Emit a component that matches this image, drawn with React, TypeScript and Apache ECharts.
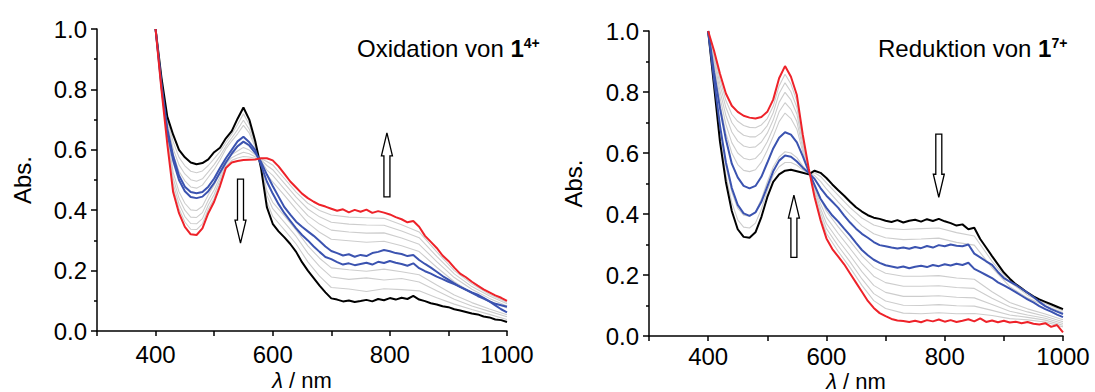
import React, { useEffect, useRef } from "react";
import * as echarts from "echarts";

// wavelength grids (nm)
const WL = [
  400, 410, 420, 430, 440, 450, 460, 470, 480, 490, 500, 510, 520, 530, 540, 550, 560, 570, 580, 590,
  600, 610, 620, 630, 640, 650, 660, 670, 680, 690, 700, 710, 720, 730, 740, 750, 760, 770, 780, 790,
  800, 810, 820, 830, 840, 850, 860, 870, 880, 890, 900, 910, 920, 930, 940, 950, 960, 970, 980, 990, 1000,
];
const WL_GRAY = [
  400, 410, 420, 430, 440, 450, 460, 470, 480, 490, 500, 510, 520, 530, 540, 550, 560, 570, 580, 590,
  600, 620, 640, 660, 680, 700, 730, 760, 790, 820, 850, 880, 910, 940, 970, 1000,
];
const X_TICK_LABELS = [400, 600, 800, 1000];

// ---- Oxidation von 1(4+) ----
const OX_BLACK = [
  1.0, 0.84, 0.71, 0.65, 0.6, 0.575, 0.558, 0.552, 0.556, 0.568, 0.592, 0.607, 0.638, 0.662, 0.703, 0.74, 0.7, 0.63, 0.54, 0.41,
  0.355, 0.33, 0.31, 0.288, 0.262, 0.228, 0.2, 0.175, 0.15, 0.128, 0.108, 0.104, 0.098, 0.101, 0.096, 0.099, 0.103, 0.098, 0.106, 0.102,
  0.109, 0.104, 0.11, 0.106, 0.116, 0.104, 0.099, 0.092, 0.088, 0.082, 0.079, 0.072, 0.068, 0.063, 0.058, 0.055, 0.048, 0.045, 0.038, 0.036, 0.03,
];
const OX_RED = [
  1.0, 0.8, 0.62, 0.46, 0.39, 0.345, 0.32, 0.318, 0.34, 0.39, 0.428, 0.48, 0.54, 0.558, 0.563, 0.566, 0.567, 0.568, 0.572, 0.572,
  0.565, 0.545, 0.52, 0.495, 0.475, 0.455, 0.44, 0.428, 0.418, 0.412, 0.405, 0.398, 0.403, 0.393, 0.401, 0.395, 0.402, 0.391, 0.397, 0.392,
  0.386, 0.377, 0.37, 0.36, 0.364, 0.345, 0.315, 0.295, 0.275, 0.25, 0.232, 0.21, 0.19, 0.178, 0.163, 0.15, 0.138, 0.128, 0.118, 0.11, 0.1,
];
const OX_BLUE_A = [
  1.0, 0.82, 0.67, 0.58, 0.515, 0.478, 0.46, 0.456, 0.46, 0.478, 0.505, 0.54, 0.572, 0.6, 0.628, 0.643, 0.625, 0.6, 0.55, 0.495,
  0.455, 0.42, 0.39, 0.365, 0.34, 0.318, 0.3, 0.28, 0.262, 0.245, 0.238, 0.228, 0.22, 0.224, 0.218, 0.222, 0.226, 0.22, 0.229, 0.225,
  0.232, 0.226, 0.222, 0.216, 0.224, 0.208, 0.198, 0.19, 0.18, 0.172, 0.163, 0.155, 0.146, 0.137, 0.128, 0.12, 0.11, 0.098, 0.085, 0.072, 0.062,
];
const OX_BLUE_B = [
  1.0, 0.81, 0.655, 0.565, 0.5, 0.463, 0.444, 0.44, 0.445, 0.463, 0.49, 0.525, 0.558, 0.587, 0.612, 0.627, 0.615, 0.59, 0.56, 0.518,
  0.48, 0.445, 0.41, 0.385, 0.362, 0.345, 0.33, 0.315, 0.298, 0.28, 0.265, 0.258, 0.25, 0.254, 0.246, 0.252, 0.248, 0.258, 0.262, 0.268,
  0.264, 0.258, 0.255, 0.248, 0.252, 0.235, 0.222, 0.21, 0.196, 0.182, 0.17, 0.158, 0.146, 0.136, 0.126, 0.116, 0.107, 0.098, 0.09, 0.085, 0.08,
];
const OX_GRAY_1 = [1.0, 0.835, 0.699, 0.627, 0.575, 0.547, 0.529, 0.524, 0.53, 0.548, 0.571, 0.594, 0.624, 0.652, 0.684, 0.719, 0.684, 0.623, 0.544, 0.429, 0.38, 0.335, 0.288, 0.229, 0.182, 0.144, 0.139, 0.131, 0.14, 0.137, 0.133, 0.11, 0.089, 0.071, 0.055, 0.038];
const OX_GRAY_2 = [1.0, 0.83, 0.688, 0.604, 0.55, 0.52, 0.501, 0.496, 0.504, 0.527, 0.551, 0.579, 0.612, 0.639, 0.667, 0.698, 0.668, 0.615, 0.548, 0.449, 0.405, 0.36, 0.313, 0.258, 0.214, 0.179, 0.171, 0.176, 0.169, 0.174, 0.162, 0.133, 0.105, 0.083, 0.065, 0.047];
const OX_GRAY_3 = [1.0, 0.826, 0.679, 0.585, 0.529, 0.497, 0.477, 0.473, 0.483, 0.509, 0.535, 0.566, 0.603, 0.629, 0.653, 0.681, 0.655, 0.609, 0.551, 0.465, 0.426, 0.381, 0.334, 0.282, 0.241, 0.209, 0.203, 0.198, 0.205, 0.196, 0.186, 0.152, 0.119, 0.094, 0.073, 0.054];
const OX_GRAY_4 = [1.0, 0.814, 0.651, 0.525, 0.461, 0.423, 0.401, 0.399, 0.413, 0.451, 0.483, 0.524, 0.572, 0.594, 0.61, 0.625, 0.612, 0.589, 0.561, 0.517, 0.494, 0.449, 0.403, 0.358, 0.327, 0.304, 0.299, 0.294, 0.297, 0.282, 0.263, 0.211, 0.163, 0.127, 0.1, 0.076];
const OX_GRAY_5 = [1.0, 0.81, 0.642, 0.506, 0.44, 0.4, 0.377, 0.376, 0.392, 0.433, 0.467, 0.511, 0.563, 0.584, 0.596, 0.608, 0.599, 0.583, 0.564, 0.533, 0.515, 0.47, 0.424, 0.382, 0.354, 0.334, 0.328, 0.324, 0.325, 0.308, 0.287, 0.23, 0.177, 0.138, 0.108, 0.083];
const OX_GRAY_6 = [1.0, 0.806, 0.633, 0.488, 0.421, 0.379, 0.356, 0.355, 0.372, 0.417, 0.452, 0.499, 0.554, 0.574, 0.584, 0.592, 0.587, 0.577, 0.567, 0.548, 0.534, 0.489, 0.443, 0.404, 0.378, 0.36, 0.354, 0.351, 0.35, 0.331, 0.309, 0.247, 0.189, 0.147, 0.116, 0.09];
const OX_GRAY_7 = [1.0, 0.803, 0.626, 0.473, 0.405, 0.361, 0.337, 0.336, 0.355, 0.403, 0.439, 0.489, 0.547, 0.565, 0.573, 0.578, 0.576, 0.572, 0.57, 0.561, 0.55, 0.505, 0.46, 0.423, 0.399, 0.384, 0.377, 0.375, 0.373, 0.352, 0.328, 0.262, 0.2, 0.156, 0.122, 0.095];

// ---- Reduktion von 1(7+) ----
const RE_BLACK = [
  1.0, 0.82, 0.637, 0.505, 0.41, 0.35, 0.325, 0.322, 0.34, 0.39, 0.455, 0.505, 0.53, 0.542, 0.545, 0.54, 0.535, 0.53, 0.542, 0.535,
  0.518, 0.497, 0.478, 0.46, 0.44, 0.422, 0.408, 0.396, 0.388, 0.384, 0.378, 0.374, 0.38, 0.372, 0.378, 0.381, 0.375, 0.383, 0.377, 0.384,
  0.376, 0.37, 0.362, 0.366, 0.35, 0.355, 0.318, 0.29, 0.262, 0.235, 0.208, 0.188, 0.17, 0.156, 0.142, 0.13, 0.12, 0.112, 0.104, 0.096, 0.088,
];
const RE_RED = [
  1.0, 0.935, 0.86, 0.795, 0.755, 0.735, 0.722, 0.716, 0.713, 0.718, 0.735, 0.775, 0.845, 0.885, 0.85, 0.79, 0.66, 0.55, 0.455, 0.38,
  0.32, 0.285, 0.26, 0.235, 0.205, 0.175, 0.145, 0.115, 0.092, 0.075, 0.065, 0.056, 0.051, 0.049, 0.046, 0.05, 0.045, 0.052, 0.048, 0.054,
  0.047, 0.052, 0.046, 0.05, 0.055, 0.048, 0.058, 0.046, 0.051, 0.045, 0.05, 0.044, 0.047, 0.042, 0.046, 0.04, 0.038, 0.042, 0.03, 0.036, 0.012,
];
const RE_BLUE_A = [
  1.0, 0.84, 0.69, 0.57, 0.485, 0.43, 0.402, 0.394, 0.405, 0.44, 0.49, 0.54, 0.575, 0.592, 0.588, 0.572, 0.552, 0.535, 0.515, 0.485,
  0.46, 0.44, 0.42, 0.395, 0.372, 0.352, 0.335, 0.322, 0.308, 0.298, 0.294, 0.29, 0.287, 0.29, 0.286, 0.292, 0.288, 0.295, 0.29, 0.298,
  0.294, 0.3, 0.296, 0.294, 0.3, 0.27, 0.258, 0.245, 0.233, 0.21, 0.19, 0.178, 0.168, 0.155, 0.142, 0.128, 0.112, 0.098, 0.088, 0.08, 0.072,
];
const RE_BLUE_B = [
  1.0, 0.865, 0.747, 0.645, 0.565, 0.52, 0.492, 0.484, 0.492, 0.522, 0.568, 0.615, 0.65, 0.668, 0.66, 0.635, 0.59, 0.54, 0.495, 0.45,
  0.42, 0.395, 0.375, 0.352, 0.33, 0.305, 0.282, 0.265, 0.25, 0.24, 0.232, 0.228, 0.224, 0.228, 0.222, 0.227, 0.23, 0.226, 0.233, 0.229,
  0.235, 0.231, 0.237, 0.233, 0.24, 0.22, 0.21, 0.2, 0.19, 0.176, 0.166, 0.155, 0.144, 0.132, 0.12, 0.11, 0.098, 0.088, 0.08, 0.07, 0.062,
];
const RE_GRAY_1 = [1.0, 0.829, 0.655, 0.528, 0.438, 0.381, 0.357, 0.354, 0.37, 0.416, 0.477, 0.527, 0.555, 0.569, 0.569, 0.56, 0.545, 0.532, 0.535, 0.523, 0.502, 0.461, 0.421, 0.387, 0.364, 0.353, 0.349, 0.352, 0.354, 0.339, 0.328, 0.245, 0.177, 0.134, 0.106, 0.083];
const RE_GRAY_2 = [1.0, 0.841, 0.677, 0.557, 0.472, 0.419, 0.396, 0.393, 0.407, 0.449, 0.505, 0.554, 0.587, 0.604, 0.6, 0.585, 0.558, 0.534, 0.526, 0.507, 0.482, 0.439, 0.398, 0.361, 0.335, 0.322, 0.316, 0.318, 0.321, 0.307, 0.298, 0.224, 0.162, 0.125, 0.099, 0.077];
const RE_GRAY_3 = [1.0, 0.883, 0.76, 0.665, 0.6, 0.562, 0.543, 0.539, 0.545, 0.57, 0.609, 0.654, 0.703, 0.731, 0.713, 0.678, 0.604, 0.541, 0.494, 0.45, 0.409, 0.358, 0.311, 0.263, 0.225, 0.206, 0.196, 0.196, 0.198, 0.19, 0.186, 0.145, 0.11, 0.089, 0.072, 0.053];
const RE_GRAY_4 = [1.0, 0.895, 0.782, 0.694, 0.634, 0.6, 0.583, 0.578, 0.582, 0.603, 0.637, 0.681, 0.735, 0.765, 0.743, 0.703, 0.616, 0.543, 0.485, 0.434, 0.389, 0.336, 0.287, 0.237, 0.196, 0.175, 0.163, 0.163, 0.165, 0.159, 0.156, 0.124, 0.096, 0.079, 0.065, 0.047];
const RE_GRAY_5 = [1.0, 0.906, 0.804, 0.723, 0.669, 0.639, 0.623, 0.618, 0.62, 0.636, 0.665, 0.708, 0.766, 0.799, 0.774, 0.728, 0.629, 0.545, 0.477, 0.419, 0.369, 0.314, 0.264, 0.211, 0.166, 0.143, 0.13, 0.13, 0.132, 0.127, 0.125, 0.103, 0.081, 0.069, 0.058, 0.041];
const RE_GRAY_6 = [1.0, 0.917, 0.824, 0.749, 0.7, 0.673, 0.658, 0.653, 0.653, 0.666, 0.69, 0.732, 0.795, 0.83, 0.801, 0.75, 0.64, 0.547, 0.469, 0.405, 0.352, 0.295, 0.243, 0.187, 0.139, 0.115, 0.101, 0.1, 0.103, 0.099, 0.098, 0.084, 0.069, 0.061, 0.052, 0.035];
const RE_GRAY_7 = [1.0, 0.926, 0.842, 0.772, 0.727, 0.704, 0.69, 0.684, 0.683, 0.692, 0.713, 0.753, 0.82, 0.858, 0.826, 0.77, 0.65, 0.548, 0.462, 0.392, 0.336, 0.277, 0.224, 0.166, 0.116, 0.09, 0.075, 0.073, 0.076, 0.073, 0.074, 0.067, 0.057, 0.053, 0.046, 0.03];

const PANELS = [
  {
    title: "Oxidation von ",
    compound: "1",
    charge: "4+",
    black: OX_BLACK, red: OX_RED, blueA: OX_BLUE_A, blueB: OX_BLUE_B,
    grays: [OX_GRAY_1, OX_GRAY_2, OX_GRAY_3, OX_GRAY_4, OX_GRAY_5, OX_GRAY_6, OX_GRAY_7],
  },
  {
    title: "Reduktion von ",
    compound: "1",
    charge: "7+",
    black: RE_BLACK, red: RE_RED, blueA: RE_BLUE_A, blueB: RE_BLUE_B,
    grays: [RE_GRAY_1, RE_GRAY_2, RE_GRAY_3, RE_GRAY_4, RE_GRAY_5, RE_GRAY_6, RE_GRAY_7],
  },
];

// arrow annotations: [panel, wavelength, tail absorbance, tip absorbance]
const ARROWS: [number, number, number, number][] = [
  [0, 545, 0.503, 0.291],
  [0, 795, 0.444, 0.656],
  [1, 545, 0.258, 0.462],
  [1, 790, 0.662, 0.455],
];

const FONT = '"Liberation Sans", Arial, Helvetica, sans-serif';
const FS = 24;
const FS_NAME = 22;
const C_BLACK = "#000000";
const C_RED = "#ee2229";
const C_BLUE = "#3b53b0";
const C_GRAY = "#cdcdcd";

const LAYOUT = [
  { grid: { left: 97, top: 29, width: 410, height: 302 }, xLabelMargin: 11, xGap: 38, yGap: 63, titleLeft: 357, titleTop: 36 },
  { grid: { left: 649, top: 31, width: 414, height: 305 }, xLabelMargin: 8, xGap: 34, yGap: 64, titleLeft: 878, titleTop: 36 },
];

function pairs(xs: number[], ys: number[]) {
  return xs.map((x, i) => [x, ys[i]]);
}

function buildOption() {
  const series: any[] = [];
  PANELS.forEach((p, gi) => {
    p.grays.forEach((g) => {
      series.push({
        type: "line", xAxisIndex: gi, yAxisIndex: gi, data: pairs(WL_GRAY, g),
        symbol: "none", silent: true, z: 1,
        lineStyle: { color: C_GRAY, width: 1.1 },
      });
    });
    const main = [
      { d: p.black, c: C_BLACK, z: 3 },
      { d: p.blueA, c: C_BLUE, z: 4 },
      { d: p.blueB, c: C_BLUE, z: 4 },
      { d: p.red, c: C_RED, z: 5 },
    ];
    main.forEach((m) => {
      series.push({
        type: "line", xAxisIndex: gi, yAxisIndex: gi, data: pairs(WL, m.d),
        symbol: "none", silent: true, z: m.z,
        lineStyle: { color: m.c, width: 2 },
      });
    });
  });

  const axisLineStyle = { color: "#000", width: 1.5 };
  const labelStyle = { fontSize: FS, color: "#000", fontFamily: FONT };
  const nameStyle = { fontSize: FS_NAME, color: "#000", fontFamily: FONT };

  return {
    animation: false,
    backgroundColor: "#ffffff",
    title: PANELS.map((p, i) => ({
      left: LAYOUT[i].titleLeft,
      top: LAYOUT[i].titleTop,
      padding: 0,
      text: `${p.title}{b|${p.compound}}{s|${p.charge}}`,
      textStyle: {
        fontSize: FS, fontWeight: "normal", color: "#000", fontFamily: FONT,
        rich: {
          b: { fontSize: FS, fontWeight: "bold", color: "#000", fontFamily: FONT },
          s: { fontSize: 14, fontWeight: "bold", color: "#000", fontFamily: FONT, verticalAlign: "top" },
        },
      },
    })),
    grid: LAYOUT.map((l) => ({ ...l.grid, containLabel: false, outerBoundsMode: "none" })),
    xAxis: LAYOUT.map((l, i) => ({
      type: "value", gridIndex: i, min: 300, max: 1000, interval: 100,
      axisLine: { show: true, onZero: false, lineStyle: axisLineStyle },
      axisTick: { show: true, length: 5, lineStyle: axisLineStyle },
      axisLabel: {
        ...labelStyle, margin: l.xLabelMargin,
        formatter: (v: number) => (X_TICK_LABELS.includes(Math.round(v)) ? String(Math.round(v)) : ""),
      },
      splitLine: { show: false },
      name: "{i|λ} / nm",
      nameLocation: "middle",
      nameGap: l.xGap,
      nameMoveOverlap: false,
      nameTextStyle: {
        ...nameStyle,
        rich: { i: { ...nameStyle, fontStyle: "italic" } },
      },
    })),
    yAxis: LAYOUT.map((l, i) => ({
      type: "value", gridIndex: i, min: 0, max: 1, interval: 0.2,
      axisLine: { show: true, onZero: false, lineStyle: axisLineStyle },
      axisTick: { show: true, length: 6, lineStyle: axisLineStyle },
      minorTick: { show: true, splitNumber: 2, length: 3, lineStyle: axisLineStyle },
      axisLabel: { ...labelStyle, margin: 10, formatter: (v: number) => v.toFixed(1) },
      splitLine: { show: false },
      minorSplitLine: { show: false },
      name: "Abs.",
      nameLocation: "middle",
      nameGap: l.yGap,
      nameMoveOverlap: false,
      nameTextStyle: { ...labelStyle },
    })),
    series,
  };
}

function arrowPoints(cx: number, yTail: number, yTip: number) {
  const sw = 3;
  const hw = 5.5;
  const hl = 23;
  const dir = yTip > yTail ? 1 : -1;
  const yb = yTip - dir * hl;
  return [
    [cx - sw, yTail], [cx + sw, yTail], [cx + sw, yb], [cx + hw, yb],
    [cx, yTip], [cx - hw, yb], [cx - sw, yb],
  ];
}

export default function App() {
  const ref = useRef<HTMLDivElement>(null);
  useEffect(() => {
    if (!ref.current) return;
    const chart = echarts.init(ref.current, null, { renderer: "svg" });
    chart.setOption(buildOption() as any);
    const graphic = ARROWS.map(([g, wl, a0, a1]) => {
      const p0 = chart.convertToPixel({ gridIndex: g } as any, [wl, a0]) as number[];
      const p1 = chart.convertToPixel({ gridIndex: g } as any, [wl, a1]) as number[];
      return {
        type: "polygon",
        z: 10,
        shape: { points: arrowPoints(p0[0], p0[1], p1[1]) },
        style: { fill: "#ffffff", stroke: "#000000", lineWidth: 1.3 },
        silent: true,
      };
    });
    chart.setOption({ graphic } as any);
    return () => chart.dispose();
  }, []);
  return (
    <div
      ref={ref}
      style={{ position: "absolute", left: 0, top: 0, width: 1095, height: 392, background: "#fff" }}
    />
  );
}
